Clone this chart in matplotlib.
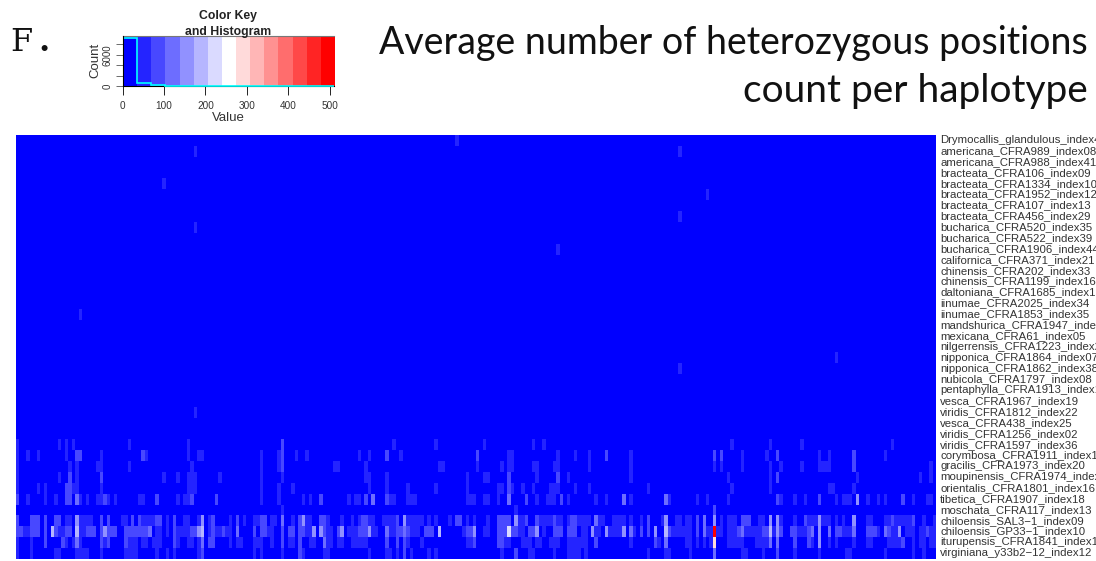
import numpy as np
import matplotlib
matplotlib.use("Agg")
import matplotlib.pyplot as plt
from matplotlib.colors import LinearSegmentedColormap
from matplotlib.transforms import ScaledTranslation

W, H = 1096, 561
N_COLS = 264

labels = [
    "Drymocallis_glandulous_index41", "americana_CFRA989_index08", "americana_CFRA988_index41",
    "bracteata_CFRA106_index09", "bracteata_CFRA1334_index10", "bracteata_CFRA1952_index12",
    "bracteata_CFRA107_index13", "bracteata_CFRA456_index29", "bucharica_CFRA520_index35",
    "bucharica_CFRA522_index39", "bucharica_CFRA1906_index44", "californica_CFRA371_index21",
    "chinensis_CFRA202_index33", "chinensis_CFRA1199_index16", "daltoniana_CFRA1685_index15",
    "iinumae_CFRA2025_index34", "iinumae_CFRA1853_index35", "mandshurica_CFRA1947_index28",
    "mexicana_CFRA61_index05", "nilgerrensis_CFRA1223_index27", "nipponica_CFRA1864_index07",
    "nipponica_CFRA1862_index38", "nubicola_CFRA1797_index08", "pentaphylla_CFRA1913_index17",
    "vesca_CFRA1967_index19", "viridis_CFRA1812_index22", "vesca_CFRA438_index25",
    "viridis_CFRA1256_index02", "viridis_CFRA1597_index36", "corymbosa_CFRA1911_index14",
    "gracilis_CFRA1973_index20", "moupinensis_CFRA1974_index23", "orientalis_CFRA1801_index16",
    "tibetica_CFRA1907_index18", "moschata_CFRA117_index13", "chiloensis_SAL3-1_index09",
    "chiloensis_GP33-1_index10", "iturupensis_CFRA1841_index11", "virginiana_y33b2-12_index12",
]

# single faint cells in the upper rows: row -> columns
sparse_cells = {0: [126], 1: [51, 190], 4: [42], 5: [198], 7: [190], 8: [51],
                10: [155], 16: [18], 20: [235], 21: [190], 25: [51]}

# lower rows: columns at about 50, then the stronger cells
row_28 = [0, 12, 14, 16, 32, 49, 108, 120, 134, 148, 151, 205, 216, 225, 251]
row_28_hi = {76: 85}
row_29 = [0, 3, 6, 14, 24, 37, 49, 52, 53, 70, 75, 80, 83, 98, 101, 110, 141, 142, 155, 160, 164,
          176, 208, 215, 230, 233, 249]
row_29_hi = {17: 85, 18: 85, 36: 85, 76: 85, 106: 85, 132: 85, 169: 85, 200: 85, 202: 85, 218: 85, 240: 85}
row_30 = [0, 15, 17, 23, 24, 32, 50, 70, 75, 91, 92, 100, 121, 122, 132, 139, 141, 142, 148, 149,
          154, 155, 164, 176, 200, 202, 208, 216, 219, 225, 230, 231, 232, 233, 262]
row_30_hi = {76: 85, 240: 85}
row_31 = [0, 12, 17, 42, 46, 49, 50, 51, 58, 70, 76, 100, 101, 106, 129, 134, 135, 149, 158, 176,
          204, 216, 241, 259, 262]
row_31_hi = {15: 85, 24: 85, 141: 85, 155: 85, 218: 85}
row_32 = [0, 6, 8, 16, 17, 24, 49, 50, 51, 70, 75, 79, 101, 106, 112, 120, 129, 138, 139, 142, 145,
          148, 153, 154, 155, 160, 164, 181, 205, 216, 233, 234, 240]
row_32_hi = {14: 85, 15: 85, 141: 85}
row_33 = [3, 8, 11, 18, 20, 23, 24, 26, 28, 35, 36, 46, 48, 49, 70, 75, 82, 84, 95, 97, 98, 107, 108,
          112, 113, 114, 129, 130, 131, 134, 135, 138, 149, 152, 153, 154, 158, 166, 169, 176, 187,
          195, 198, 204, 219, 223, 226, 235, 237, 238, 239, 244, 247, 249, 257, 261, 262]
row_33_hi = {0: 85, 14: 85, 15: 85, 17: 120, 25: 85, 40: 85, 50: 85, 57: 85, 87: 85, 100: 85, 102: 120,
             106: 85, 141: 120, 146: 85, 156: 85, 174: 120, 186: 120, 218: 85, 230: 85, 241: 155, 254: 85}
row_34 = [76, 143]
row_34_hi = {200: 85}
row_35 = [14, 15, 18, 19, 20, 21, 30, 31, 36, 37, 38, 39, 43, 48, 49, 52, 55, 61, 65, 68, 69, 73, 74,
          79, 83, 84, 89, 93, 96, 98, 101, 102, 105, 106, 107, 108, 112, 113, 114, 115, 116, 118, 120,
          124, 129, 131, 135, 144, 145, 150, 151, 152, 153, 155, 156, 158, 161, 162, 163, 164, 167,
          168, 171, 172, 173, 174, 176, 179, 185, 189, 190, 192, 193, 202, 204, 205, 206, 213, 214,
          219, 223, 227, 228, 229, 231, 232, 233, 235, 237, 244, 245, 249, 250, 252, 253, 254, 255,
          256, 260, 263]
row_35_hi = {0: 85, 4: 85, 5: 85, 6: 85, 8: 85, 11: 85, 12: 85, 17: 155, 24: 85, 26: 85, 33: 85, 35: 85,
             40: 85, 41: 85, 45: 85, 53: 155, 56: 85, 63: 85, 70: 85, 71: 85, 76: 120, 81: 85, 82: 155,
             87: 85, 88: 85, 99: 85, 100: 85, 109: 85, 111: 155, 126: 85, 127: 85, 138: 85, 139: 85,
             140: 85, 141: 85, 143: 155, 146: 85, 149: 85, 154: 85, 159: 85, 160: 85, 166: 120, 181: 85,
             186: 155, 195: 85, 197: 120, 200: 155, 208: 85, 209: 85, 210: 85, 216: 155, 218: 155,
             226: 85, 230: 155, 240: 155, 251: 85, 257: 85}
row_36 = [2, 3, 12, 13, 18, 19, 43, 46, 47, 48, 49, 55, 57, 58, 60, 61, 72, 73, 83, 84, 89, 90, 95, 96,
          97, 102, 103, 107, 108, 113, 114, 115, 128, 134, 135, 144, 145, 151, 162, 163, 166, 167,
          170, 171, 172, 173, 177, 188, 189, 190, 191, 192, 193, 198, 199, 201, 202, 204, 205, 206,
          209, 210, 211, 212, 213, 217, 224, 225, 226, 237, 238, 239, 247, 251, 252, 255, 256, 257,
          259, 260, 262, 263]
row_36_hi = {0: 85, 1: 85, 4: 85, 5: 85, 6: 85, 8: 85, 10: 190, 11: 85, 14: 85, 15: 85, 17: 190, 20: 85,
             21: 85, 22: 85, 24: 85, 25: 155, 26: 85, 27: 85, 28: 85, 31: 85, 32: 85, 33: 85, 34: 85,
             35: 85, 36: 85, 37: 85, 38: 120, 40: 50, 41: 50, 45: 85, 50: 85, 51: 85, 52: 155, 53: 190,
             56: 85, 59: 85, 63: 120, 68: 85, 70: 85, 71: 85, 76: 85, 78: 85, 79: 85, 81: 85, 82: 85,
             85: 155, 87: 155, 88: 85, 92: 85, 93: 155, 98: 85, 99: 85, 100: 85, 101: 155, 106: 120,
             109: 85, 110: 85, 111: 120, 112: 85, 117: 85, 118: 85, 119: 85, 121: 190, 129: 85, 130: 85,
             131: 155, 138: 85, 139: 85, 140: 85, 141: 220, 142: 85, 143: 85, 147: 85, 148: 85, 149: 155,
             154: 85, 155: 85, 156: 85, 158: 85, 159: 85, 160: 85, 165: 155, 169: 155, 174: 155, 176: 120,
             179: 85, 181: 85, 183: 155, 186: 190, 187: 85, 195: 85, 197: 120, 200: 500, 207: 85, 208: 120,
             214: 85, 215: 85, 216: 190, 218: 155, 219: 85, 222: 85, 223: 85, 227: 85, 228: 120, 230: 155,
             233: 120, 235: 85, 236: 85, 240: 120, 244: 85, 245: 85, 246: 85, 249: 120, 250: 85, 253: 155,
             261: 85}
row_37 = [0, 4, 14, 16, 18, 25, 32, 33, 34, 36, 37, 39, 40, 41, 46, 49, 50, 52, 61, 63, 64, 68, 69, 70,
          73, 78, 79, 84, 85, 89, 90, 92, 93, 96, 97, 98, 99, 100, 112, 116, 129, 130, 140, 141, 145,
          146, 147, 149, 150, 153, 154, 155, 158, 159, 160, 161, 162, 163, 176, 184, 192, 193, 195,
          197, 199, 204, 205, 206, 207, 208, 212, 213, 214, 215, 228, 233, 235, 240, 244, 245, 250,
          251, 252, 253, 257, 259, 260, 262, 263]
row_37_hi = {8: 85, 13: 85, 17: 120, 24: 85, 26: 85, 31: 85, 45: 85, 53: 120, 55: 85, 56: 85, 76: 85,
             81: 85, 88: 120, 106: 85, 109: 85, 111: 85, 131: 85, 138: 85, 139: 85, 166: 85, 183: 85,
             186: 120, 200: 290, 216: 120, 218: 120, 223: 85, 227: 85, 230: 155, 254: 85}
row_38 = [0, 4, 11, 12, 17, 18, 19, 20, 24, 31, 32, 33, 34, 40, 43, 45, 52, 68, 70, 76, 82, 88, 89, 101,
          106, 107, 109, 113, 118, 120, 139, 147, 148, 154, 158, 159, 160, 161, 163, 181, 186, 187,
          193, 208, 209, 214, 223, 230, 238, 239, 249, 257, 260]
row_38_hi = {53: 85, 81: 85, 111: 85, 143: 85, 200: 120, 218: 85}

# colour key histogram, one count per colour bin
hist_counts = [9170, 560, 140, 30, 8, 3, 1, 1, 0, 0, 0, 0, 0, 0, 1]
key_max = 510
hist_yticks = [0, 2000, 4000, 6000, 8000]


def add_axes_px(x0, y0, x1, y1):
    return fig.add_axes([x0 / W, 1 - y1 / H, (x1 - x0) / W, (y1 - y0) / H])


matrix = np.zeros((len(labels), N_COLS))
for r, cols in sparse_cells.items():
    matrix[r, cols] = 50
lower = [(row_28, row_28_hi), (row_29, row_29_hi), (row_30, row_30_hi), (row_31, row_31_hi),
         (row_32, row_32_hi), (row_33, row_33_hi), (row_34, row_34_hi), (row_35, row_35_hi),
         (row_36, row_36_hi), (row_37, row_37_hi), (row_38, row_38_hi)]
for r, (faint, strong) in enumerate(lower, start=28):
    matrix[r, faint] = 50
    for c, v in strong.items():
        matrix[r, c] = v

cmap = LinearSegmentedColormap.from_list("bwr15", ["#0000ff", "#ffffff", "#ff0000"], 15)

plt.rcParams["font.family"] = ["Liberation Sans", "DejaVu Sans"]
fig = plt.figure(figsize=(W / 100, H / 100), dpi=100)

ax = add_axes_px(16, 135, 936, 559)
ax.imshow(matrix, aspect="auto", cmap=cmap, vmin=0, vmax=key_max, interpolation="nearest")
ax.set_xticks([])
ax.yaxis.tick_right()
ax.set_yticks(range(len(labels)))
ax.set_yticklabels([s.replace("-", "\u2212") for s in labels], fontsize=8.2, color="#333333")
ax.tick_params(axis="y", length=0, pad=3)
up = ScaledTranslation(0, 1.2 / 100, fig.dpi_scale_trans)
for lbl in ax.get_yticklabels():
    lbl.set_transform(lbl.get_transform() + up)
for spine in ax.spines.values():
    spine.set_visible(False)

# colour key
key = add_axes_px(122.5, 35.5, 334, 86)
key.imshow(np.linspace(0, key_max, 15).reshape(1, -1), aspect="auto", cmap=cmap, vmin=0, vmax=key_max,
           extent=[0, key_max, 0, 9710], interpolation="nearest", zorder=0)
edges = np.linspace(0, key_max, 16)
key.stairs(hist_counts, edges, color="cyan", lw=1.2, baseline=None, zorder=3, clip_on=False)
key.set_xlim(0, key_max)
key.set_ylim(0, 9710)
key.set_xticks([0, 100, 200, 300, 400, 500])
key.set_yticks(hist_yticks)
key.set_yticklabels(["0", "", "", "6000", ""], rotation=90, va="center", fontsize=7, color="#333333")
key.tick_params(axis="x", labelsize=7.2, labelcolor="#333333", length=6.5, width=0.6, pad=4)
key.tick_params(axis="y", length=5, width=0.6, pad=2, color="#555555")
key.spines["top"].set_color("#777777")
key.spines["right"].set_visible(False)
key.spines["bottom"].set_linewidth(0.8)
key.spines["left"].set_zorder(4)
key.set_xlabel("Value", fontsize=9.5, color="#333333", labelpad=1)
key.set_ylabel("Count", fontsize=9.5, color="#333333", labelpad=1)

fig.text(228 / W, 1 - 16.5 / H, "Color Key", fontsize=8.8, fontweight="bold", ha="center", va="center",
         color="#222222", zorder=5)
fig.text(228 / W, 1 - 31.5 / H, "and Histogram", fontsize=8.8, fontweight="bold", ha="center", va="center",
         color="#222222", zorder=5)

fig.text(10 / W, 1 - 51 / H, "F", family="DejaVu Serif", fontsize=23, va="baseline", color="#111111")
fig.text(38 / W, 1 - 51 / H, ".", family="DejaVu Serif", fontweight="bold", fontsize=23, va="baseline",
         color="#111111")
fig.text(1088 / W, 1 - 54 / H, "Average number of heterozygous positions", family="Lato", fontsize=27,
         ha="right", va="baseline", color="#111111")
fig.text(1088 / W, 1 - 102 / H, "count per haplotype", family="Lato", fontsize=28, ha="right",
         va="baseline", color="#111111")

fig.savefig("out.png", dpi=100)
plt.close(fig)
